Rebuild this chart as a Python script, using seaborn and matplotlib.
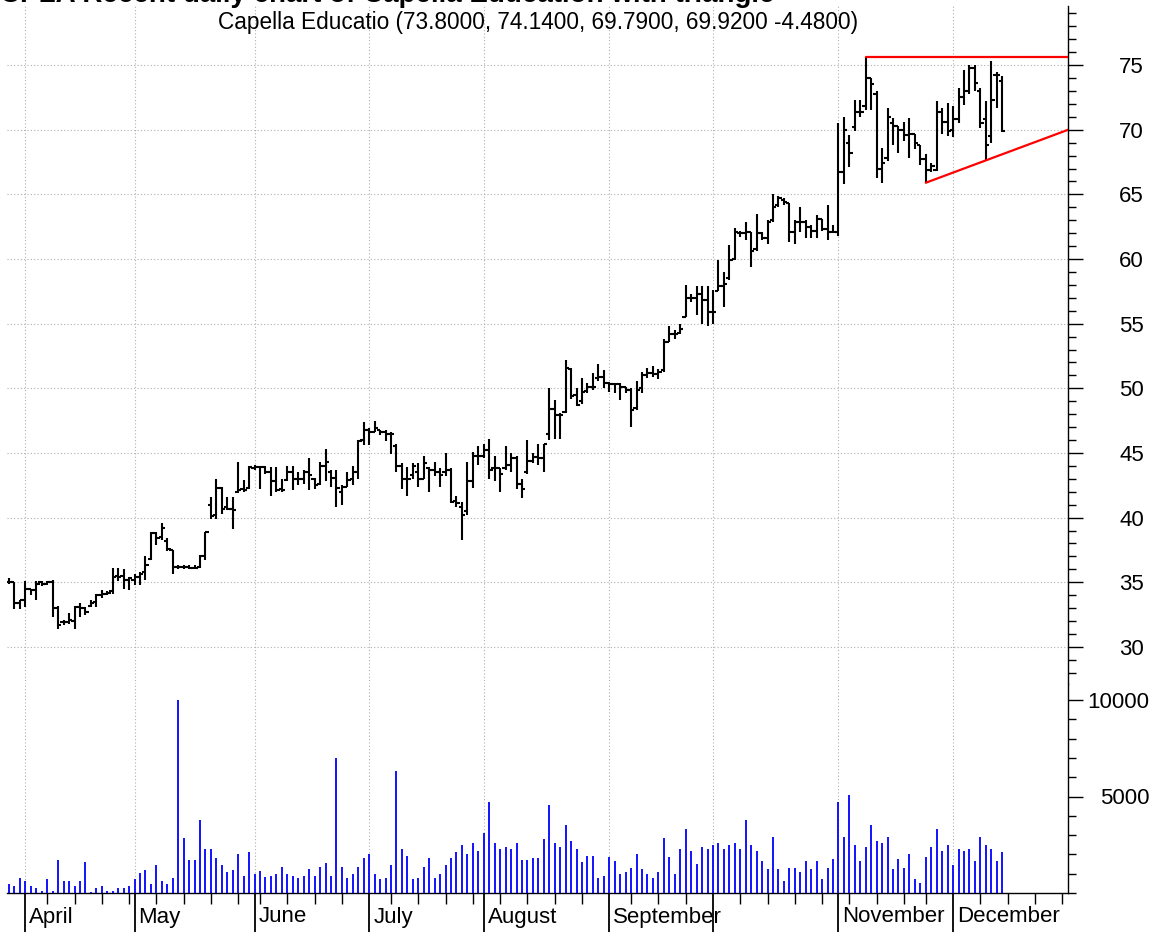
import numpy as np
import pandas as pd
import matplotlib
matplotlib.use("Agg")
import matplotlib.pyplot as plt
import matplotlib.transforms as mtransforms
from matplotlib.ticker import MultipleLocator, FixedLocator, NullFormatter
import seaborn as sns

# ---------------- data ----------------
opens = [35.0,35.0,33.4,33.6,34.5,34.4,35.0,34.9,35.0,33.0,
         31.9,31.9,32.0,33.1,33.0,33.2,33.5,34.0,34.1,34.3,
         35.5,35.5,35.2,35.2,35.4,35.8,36.8,38.8,38.5,38.2,
         37.5,36.2,36.2,36.2,36.1,36.2,37.0,41.0,40.2,42.3,
         40.8,40.7,42.0,42.2,42.3,43.8,43.9,43.9,43.5,42.8,
         42.2,42.9,43.5,43.0,43.0,43.5,43.0,42.6,44.0,43.5,
         43.1,42.0,42.4,43.0,43.5,46.0,46.8,46.6,46.8,46.6,
         46.5,45.5,44.0,43.0,43.3,43.5,43.0,43.8,43.7,43.5,
         43.5,43.7,41.3,40.8,40.5,42.8,44.8,44.8,45.2,43.8,
         43.8,43.8,44.1,44.6,42.6,43.5,44.4,44.7,44.6,46.5,
         48.4,47.9,48.2,51.5,49.5,49.0,49.8,50.1,50.8,50.9,
         50.4,50.3,50.3,50.1,49.9,48.5,50.0,51.0,51.2,51.1,
         51.4,53.6,54.2,54.3,55.5,57.0,57.0,57.3,56.8,55.9,
         57.5,57.9,58.5,60.0,62.0,62.0,62.1,60.8,62.0,61.6,
         63.0,64.2,64.6,64.3,62.1,62.9,62.9,62.5,62.2,63.1,
         62.3,62.1,62.1,66.7,69.0,70.2,71.4,71.8,74.0,72.8,
         67.0,67.8,70.5,70.3,70.0,69.6,69.7,68.8,67.7,66.9,
         66.9,71.4,70.6,70.0,70.8,72.5,73.0,74.8,73.0,70.8,
         69.5,74.2,73.8]
highs = [35.3,35.0,33.6,35.1,34.5,35.1,35.1,35.1,35.2,33.2,
         32.1,32.6,33.2,33.4,33.1,33.6,34.1,34.4,34.3,36.1,
         36.1,36.0,35.4,35.6,35.8,37.0,38.9,38.9,39.6,38.4,
         37.5,36.3,36.3,36.3,36.3,37.1,38.9,41.6,43.0,42.4,
         41.6,41.6,44.3,42.9,44.0,44.1,44.0,44.0,43.9,43.9,
         43.0,44.0,44.0,43.5,43.7,44.6,43.1,44.3,45.3,43.7,
         43.7,42.5,43.5,44.0,46.0,47.4,46.9,47.5,46.8,46.8,
         46.6,45.7,44.2,43.9,44.2,44.2,44.8,43.9,44.3,43.8,
         45.0,43.8,41.7,41.2,44.3,45.1,45.5,45.7,46.1,44.8,
         43.8,45.5,45.0,44.8,43.0,46.0,45.0,45.7,45.7,50.0,
         49.1,48.1,52.2,51.6,50.0,50.8,50.4,51.2,51.9,51.4,
         50.5,50.4,50.4,50.1,50.0,50.6,51.3,51.6,51.7,51.5,
         53.8,54.8,54.5,55.0,58.0,57.3,57.9,57.9,57.9,57.6,
         59.9,59.0,61.1,62.4,62.2,62.9,62.1,63.5,62.1,63.0,
         65.0,64.9,64.7,64.3,63.0,64.0,63.0,62.6,63.4,63.1,
         64.2,62.6,70.5,71.0,69.6,72.3,72.3,75.6,74.0,73.0,
         68.6,71.7,70.9,70.3,70.6,70.9,69.7,68.8,68.1,67.4,
         72.2,71.7,72.1,71.8,73.2,74.6,75.0,75.0,73.2,72.2,
         75.3,74.5,74.14]
lows = [34.9,32.9,32.9,33.1,34.0,33.6,34.7,34.8,32.3,31.4,
        31.7,31.8,31.4,32.3,32.5,33.1,33.1,33.8,34.0,34.1,
        35.1,34.5,34.4,34.8,34.8,35.2,36.7,37.9,38.3,37.4,
        35.6,36.0,36.0,36.0,36.0,36.1,36.7,39.9,39.9,40.3,
        40.6,39.1,41.9,42.0,42.2,43.7,42.2,43.4,41.7,42.0,
        42.0,42.8,42.1,42.5,42.6,42.1,42.2,42.5,42.8,42.4,
        40.8,41.0,42.4,42.5,43.0,45.6,45.6,46.6,46.4,45.9,
        44.9,43.5,42.2,41.7,43.0,42.4,43.0,42.0,43.2,42.4,
        43.2,41.1,40.8,38.3,40.2,42.3,44.1,44.6,43.0,42.8,
        42.0,43.7,43.5,42.2,41.5,43.4,44.2,44.1,43.5,46.0,
        46.1,46.1,48.1,49.2,48.6,48.8,49.6,49.9,50.6,50.0,
        49.7,49.6,49.1,49.6,47.0,48.3,49.6,50.8,50.9,50.7,
        51.3,53.6,53.8,54.2,55.5,56.7,55.7,55.0,54.8,55.0,
        57.5,56.3,58.4,59.9,61.7,61.5,59.4,60.6,61.5,61.2,
        62.9,64.0,64.2,61.3,61.2,62.1,61.6,61.6,61.6,62.2,
        61.5,62.0,61.8,65.8,67.1,69.9,71.0,71.5,71.5,66.3,
        65.9,67.6,68.8,68.2,69.1,67.8,68.5,67.3,65.9,66.7,
        66.8,69.7,69.5,69.4,70.5,71.9,72.8,73.0,70.1,67.6,
        69.0,71.7,69.79]
closes = [35.0,33.4,33.6,34.5,34.4,34.9,34.9,35.0,33.0,31.7,
          31.9,32.1,33.1,33.0,32.7,33.4,34.0,34.1,34.2,35.4,
          35.4,35.2,35.3,35.4,35.6,36.3,38.8,38.4,39.2,37.6,
          36.2,36.2,36.2,36.1,36.1,37.0,38.9,40.1,42.3,40.7,
          40.7,40.6,42.1,42.1,43.9,43.9,43.9,43.5,42.8,42.1,
          42.1,43.5,43.0,43.0,43.5,43.3,42.5,44.0,44.3,43.1,
          42.3,42.4,42.9,43.5,45.9,46.8,46.6,46.9,46.6,46.5,
          46.5,44.0,43.0,43.0,44.0,43.0,44.2,43.7,43.5,43.3,
          43.7,41.2,41.1,40.2,42.8,44.8,44.8,45.2,43.7,43.8,
          43.4,44.1,44.6,42.6,42.2,44.4,44.7,44.6,45.7,48.4,
          47.9,47.9,51.6,49.4,48.7,49.7,50.1,50.1,50.9,50.4,
          50.3,50.3,50.1,49.9,48.3,49.9,51.0,51.2,51.1,51.3,
          53.6,54.2,54.2,54.6,57.0,57.0,57.3,56.8,55.9,55.9,
          57.9,58.1,59.9,62.1,62.0,62.1,60.6,62.0,61.6,62.9,
          64.0,64.7,64.4,62.1,62.9,62.9,62.5,62.2,63.1,62.3,
          62.1,62.1,66.7,70.0,68.2,71.4,71.4,74.0,73.5,67.0,
          67.4,71.0,70.3,70.0,69.6,69.7,69.0,67.7,66.9,67.2,
          71.4,70.6,69.9,70.8,72.5,73.0,74.8,73.6,70.5,68.8,
          72.3,74.2,69.92]
volumes = [460,360,800,600,360,260,120,700,120,1700,
           600,600,360,600,1600,60,260,360,120,120,
           260,260,360,700,1050,1200,460,1450,600,460,
           800,10000,2850,1700,1700,3800,2300,2300,1800,1450,
           1100,1200,2000,900,2100,1000,1150,850,900,1000,
           1350,1000,900,800,900,1250,900,1350,1550,900,
           7000,1350,800,1000,1350,1800,2000,1000,700,800,
           1450,6300,2300,1900,700,800,1350,1800,800,1000,
           1450,1800,2100,2500,2000,2600,2200,3100,4700,2600,
           2300,2400,2300,2600,1700,1700,1800,1800,2800,4550,
           2600,2400,3500,2700,2300,1600,1900,1900,800,900,
           1850,1650,1000,1100,1300,2000,1250,1000,800,1100,
           2850,1850,1000,2300,3300,2200,1500,2400,2300,2500,
           2600,2300,2500,2600,2300,3800,2500,2200,1650,1250,
           2900,1250,600,1300,1300,1100,1650,1250,1650,700,
           1300,1750,4700,2900,5100,2500,1650,2400,3500,2700,
           2600,2900,1250,1750,1300,2000,700,500,1850,2400,
           3300,2200,2500,1450,2300,2200,2300,1650,2900,2500,
           2300,1650,2100]

month_labels = ["April", "May", "June", "July", "August", "September", "", "November", "December"]
price_ticks = [30, 35, 40, 45, 50, 55, 60, 65, 70, 75]
volume_ticks = [5000, 10000]
upper_x, upper_y = [157, 194.1], [75.6, 75.6]
lower_x, lower_y = [168, 194.1], [65.9, 70.0]
header = "Capella Educatio (73.8000, 74.1400, 69.7900, 69.9200 -4.4800)"
top_title = "CPLA Recent daily chart of Capella Education with triangle"

# trading calendar (2007)
holidays = pd.to_datetime(["2007-04-06", "2007-05-28", "2007-07-04", "2007-09-03", "2007-11-22"])
dates = pd.bdate_range("2007-03-28", "2007-12-14")
dates = dates[~dates.isin(holidays)]
future = pd.bdate_range("2007-12-17", "2007-12-31")
all_dates = dates.append(future)
pos = np.arange(len(all_dates))
n = len(opens)
idx = np.arange(n)

month_starts = [p for p in pos[1:] if all_dates[p].month != all_dates[p - 1].month]
week_starts = [p for p in pos[1:] if all_dates[p].isocalendar()[1] != all_dates[p - 1].isocalendar()[1]]

# ---------------- figure ----------------
sns.set_theme(style="white")
plt.rcParams["font.family"] = ["Liberation Sans", "DejaVu Sans"]

W, H = 1166, 932
fig = plt.figure(figsize=(W / 100, H / 100), dpi=100)
left, right = 7, 1068
top_p, bot_p, bot_v = 6, 684, 893
ax_p = fig.add_axes([left / W, 1 - bot_p / H, (right - left) / W, (bot_p - top_p) / H])
ax_v = fig.add_axes([left / W, 1 - bot_v / H, (right - left) / W, (bot_v - bot_p) / H], sharex=ax_p)

grid_kw = dict(color="#b0b0b0", linestyle=(0, (1, 2)), linewidth=0.8)

# OHLC bars
lw = 1.5
ax_p.vlines(idx, lows, highs, color="black", lw=lw, zorder=3)
ax_p.hlines(opens, idx - 0.6, idx, color="black", lw=lw, zorder=3)
ax_p.hlines(closes, idx, idx + 0.6, color="black", lw=lw, zorder=3)

# trend lines
sns.lineplot(x=upper_x, y=upper_y, ax=ax_p, color="red", lw=1.6, zorder=4)
sns.lineplot(x=lower_x, y=lower_y, ax=ax_p, color="red", lw=1.6, zorder=4)

# volume
ax_v.vlines(idx, 0, volumes, color="#0000ff", lw=1.3, zorder=3)

xlo = -0.37
xhi = (right - 9) / 5.457
ax_p.set_xlim(xlo, xhi)
ax_p.set_ylim(27.13, 75 + (65.1 - top_p) / 12.93)
ax_v.set_ylim(0, (bot_v - bot_p) / 19.3 * 1000)

for ax, pad in ((ax_p, 44), (ax_v, 48)):
    ax.set_facecolor("white")
    for s in ("left", "top"):
        ax.spines[s].set_visible(False)
    ax.spines["right"].set_color("black")
    ax.spines["right"].set_linewidth(1.0)
    ax.yaxis.tick_right()
    ax.xaxis.set_major_locator(FixedLocator(month_starts))
    ax.xaxis.set_minor_locator(FixedLocator(week_starts))
    ax.xaxis.grid(True, which="major", **grid_kw)
    ax.set_xlabel("")
    ax.set_ylabel("")
    ax.tick_params(axis="y", which="major", direction="out", length=10.8, width=1.0,
                   colors="black", labelsize=16, pad=pad, right=True, left=False)
    ax.tick_params(axis="y", which="minor", direction="out", length=5.5, width=1.0,
                   colors="black", right=True, left=False)

ax_p.spines["bottom"].set_visible(False)
ax_p.yaxis.set_major_locator(FixedLocator(price_ticks))
ax_p.yaxis.set_minor_locator(MultipleLocator(1))
ax_p.yaxis.grid(True, which="major", **grid_kw)
ax_p.tick_params(axis="x", which="both", length=0, labelbottom=False)

ax_v.spines["bottom"].set_color("black")
ax_v.spines["bottom"].set_linewidth(1.0)
ax_v.yaxis.set_major_locator(FixedLocator(volume_ticks))
ax_v.yaxis.set_minor_locator(MultipleLocator(1000))
ax_v.tick_params(axis="x", which="major", direction="out", length=32, width=1.3,
                 colors="black", labelbottom=False, bottom=True)
ax_v.tick_params(axis="x", which="minor", direction="out", length=8, width=1.0,
                 colors="black", bottom=True)
ax_v.xaxis.set_minor_formatter(NullFormatter())

# month labels
trans = mtransforms.blended_transform_factory(ax_v.transData, ax_v.transAxes) + \
    mtransforms.ScaledTranslation(4 / 100, -24 / 100, fig.dpi_scale_trans)
for p, lab in zip(month_starts, month_labels):
    if lab:
        ax_v.text(p, 0, lab, transform=trans, ha="left", va="center", fontsize=16, color="black")

# headers
fig.text(538 / W, 1 - 22 / H, header, ha="center", va="center", fontsize=16.3, color="black")
fig.text(0 / W, 1 - 2 / H, top_title, ha="left", va="baseline", fontsize=20,
         fontweight="bold", color="black")

# right-align the value labels on the right axis
fig.canvas.draw()
for ax in (ax_p, ax_v):
    for t in ax.yaxis.get_major_ticks():
        t.label2.set_horizontalalignment("right")

fig.savefig("out.png", dpi=100, facecolor="white")
